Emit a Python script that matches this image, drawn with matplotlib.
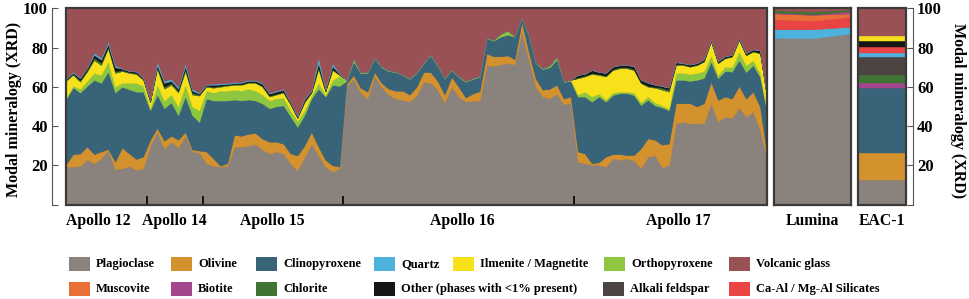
import numpy as np
import matplotlib
matplotlib.use("Agg")
import matplotlib.pyplot as plt
from matplotlib.patches import Rectangle

plt.rcParams["font.family"] = ["Liberation Serif", "DejaVu Serif"]
plt.rcParams["font.weight"] = "bold"

# sample groups along the main panel (samples in order)
group_names = ["Apollo 12", "Apollo 14", "Apollo 15", "Apollo 16", "Apollo 17"]
group_sizes = [12, 8, 20, 33, 28]

# modal mineralogy (%) of each lunar sample
plagioclase = [19.3, 19.3, 19.6, 23.0, 21.0, 23.5, 27.8, 18.0, 18.4, 19.6, 17.6, 18.4,
               30.0, 37.0, 28.5, 32.0, 29.0, 35.0, 27.0, 26.5,
               21.0, 19.7, 19.3, 19.5, 29.5, 29.5, 30.0, 30.8, 28.0, 26.0, 27.0, 26.0, 21.0, 17.5, 24.0, 31.0, 25.0, 19.3, 16.7, 18.4,
               60.5, 64.0, 57.0, 54.0, 65.5, 60.0, 56.0, 54.0, 53.3, 52.5, 55.5, 62.5, 62.0, 58.5, 52.0, 60.0, 55.0, 52.5, 53.0, 52.8,
               71.0, 70.5, 71.5, 72.0, 71.5, 88.0, 74.0, 60.0, 55.0, 54.0, 56.5, 51.0, 52.0,
               21.8, 21.0, 20.2, 20.2, 19.3, 23.5, 22.7, 23.5, 22.5, 18.4, 24.4, 25.0, 19.0, 20.0,
               41.3, 42.2, 41.3, 41.5, 41.3, 51.6, 42.2, 44.8, 44.0, 49.5, 44.8, 47.3, 38.0, 23.0]
olivine = [1.2, 6.4, 6.4, 6.5, 4.7, 3.5, 0.5, 3.8, 10.6, 6.4, 5.6, 6.0,
           3.0, 2.0, 4.0, 3.0, 4.0, 2.0, 1.0, 1.0,
           6.0, 3.8, 0.5, 1.5, 6.0, 5.5, 6.0, 5.7, 5.5, 6.0, 5.0, 5.0, 5.0, 7.5, 6.0, 6.0, 4.5, 3.4, 3.3, 0.9,
           1.0, 2.0, 2.5, 3.5, 2.0, 2.0, 3.0, 4.0, 4.7, 3.5, 4.5, 5.0, 5.5, 4.5, 4.0, 5.0, 5.0, 2.0, 3.5, 4.9,
           6.0, 5.0, 4.0, 4.0, 2.5, 5.0, 4.0, 4.0, 3.5, 5.0, 4.5, 3.0, 3.0,
           5.2, 5.0, 0.8, 1.3, 5.1, 2.2, 3.0, 1.7, 2.7, 10.2, 9.3, 8.0, 11.5, 11.0,
           10.3, 9.4, 10.3, 8.5, 10.3, 11.0, 11.1, 10.2, 10.0, 10.9, 9.2, 10.2, 11.9, 2.0]
clinopyroxene = [33.1, 34.0, 31.0, 30.9, 37.8, 35.0, 39.4, 35.2, 31.0, 32.7, 34.3, 33.1,
                 15.0, 17.0, 16.5, 17.0, 12.5, 18.0, 17.5, 14.5,
                 27.0, 29.5, 33.2, 32.0, 18.0, 18.0, 17.5, 16.5, 18.0, 17.0, 18.0, 19.5, 19.0, 14.5, 15.5, 17.0, 29.5, 32.3, 41.0, 41.1,
                 1.5, 7.0, 7.5, 9.5, 7.0, 8.0, 9.0, 9.5, 8.0, 8.0, 7.0, 4.5, 8.5, 7.5, 8.0, 3.5, 5.0, 8.0, 7.5, 7.3,
                 7.7, 8.0, 10.0, 10.5, 11.5, 2.0, 8.0, 8.0, 10.5, 11.0, 13.0, 8.5, 8.0,
                 28.0, 29.0, 31.4, 33.5, 28.0, 30.1, 31.0, 31.5, 30.6, 22.1, 19.6, 17.5, 19.0, 17.0,
                 11.9, 11.9, 11.4, 13.5, 12.9, 10.2, 11.0, 13.0, 13.7, 13.2, 13.5, 13.5, 15.1, 22.0]
orthopyroxene = [0.9, 0.8, 2.0, 2.6, 3.5, 4.0, 5.3, 3.0, 2.0, 3.3, 4.5, 3.0,
                 1.0, 5.0, 4.0, 4.0, 4.5, 6.0, 4.5, 6.0,
                 4.0, 4.0, 5.0, 5.0, 5.0, 5.0, 5.5, 5.0, 4.5, 4.0, 4.0, 4.0, 3.0, 3.0, 2.5, 1.5, 3.0, 0.8, 2.5, 5.1,
                 0.5, 1.0, 0.5, 0.5, 0.5, 0.5, 0.5, 0.3, 0.3, 0.5, 0.5, 0.5, 0.5, 0.5, 0.5, 0.5, 0.5, 0.5, 0.5, 0.5,
                 0.3, 0.5, 1.5, 2.2, 0.3, 0.2, 0.5, 0.5, 0.5, 1.0, 1.5, 0.5, 0.5,
                 1.0, 2.5, 2.6, 1.5, 1.1, 1.2, 0.8, 0.8, 1.2, 1.3, 1.7, 1.5, 1.0, 0.8,
                 3.5, 3.5, 3.5, 3.5, 3.5, 3.2, 1.7, 2.2, 2.3, 4.3, 3.5, 2.5, 2.0, 1.0]
ilmenite = [8.5, 5.5, 3.6, 4.7, 6.6, 5.0, 6.6, 7.0, 6.0, 5.0, 4.5, 3.0,
            3.0, 8.0, 6.0, 5.0, 7.0, 7.0, 6.0, 7.5,
            2.0, 2.5, 2.0, 2.5, 2.5, 3.0, 3.0, 4.0, 4.0, 2.0, 2.0, 2.5, 3.0, 1.5, 4.0, 1.5, 7.0, 1.7, 5.0, 0.5,
            0.0, 0.5, 0.0, 0.0, 0.0, 0.0, 0.0, 0.0, 0.0, 0.0, 0.0, 0.0, 0.0, 0.0, 0.0, 0.0, 0.0, 0.0, 0.0, 0.0,
            0.0, 0.0, 0.0, 0.0, 0.0, 0.0, 0.0, 0.0, 0.0, 0.0, 0.0, 0.0, 0.0,
            8.3, 7.7, 11.5, 9.5, 11.7, 11.5, 11.9, 11.9, 11.5, 9.8, 5.0, 7.5, 8.0, 8.7,
            4.0, 4.0, 3.7, 4.0, 4.8, 7.0, 6.0, 4.3, 5.3, 5.9, 5.0, 4.4, 10.0, 6.0]
chlorite = [0.5, 0.7, 0.7, 0.8, 1.2, 1.3, 0.7, 1.0, 0.5, 0.5, 0.5, 0.5,
            0.5, 1.0, 1.0, 1.0, 1.0, 1.0, 1.0, 0.5,
            0.5, 0.5, 0.5, 0.5, 0.3, 0.3, 0.3, 0.3, 0.5, 0.5, 0.5, 0.5, 0.3, 0.3, 0.5, 0.3, 1.0, 0.3, 0.5, 0.2,
            0.0, 0.0, 0.0, 0.0, 0.0, 0.0, 0.0, 0.0, 0.0, 0.0, 0.0, 0.0, 0.0, 0.0, 0.0, 0.0, 0.0, 0.0, 0.0, 0.0,
            0.0, 0.0, 0.0, 0.0, 0.0, 0.0, 0.0, 0.0, 0.0, 0.0, 0.0, 0.0, 0.0,
            0.5, 0.5, 0.5, 0.5, 0.5, 0.5, 0.6, 0.6, 0.5, 0.5, 0.5, 0.5, 1.0, 1.0,
            0.5, 0.5, 0.3, 0.3, 0.4, 0.3, 0.3, 0.3, 0.3, 0.2, 0.3, 0.3, 0.3, 0.3]
other = [0.5, 0.5, 1.0, 1.0, 1.5, 1.5, 1.5, 2.0, 0.7, 0.5, 0.7, 0.5,
         0.5, 1.0, 2.0, 1.0, 1.0, 1.5, 1.0, 0.5,
         0.5, 1.0, 0.7, 0.5, 0.5, 0.7, 0.7, 0.7, 1.0, 1.0, 1.0, 1.0, 0.7, 0.5, 1.0, 0.7, 2.0, 0.7, 1.5, 0.3,
         0.0, 0.0, 0.0, 0.0, 0.0, 0.0, 0.0, 0.0, 0.0, 0.0, 0.0, 0.0, 0.0, 0.0, 0.0, 0.0, 0.0, 0.0, 0.0, 0.0,
         0.0, 0.0, 0.0, 0.0, 0.0, 0.0, 0.0, 0.0, 0.0, 0.0, 0.0, 0.0, 0.0,
         1.2, 0.8, 1.5, 1.0, 1.3, 1.2, 1.0, 1.0, 1.5, 1.2, 1.5, 1.0, 0.8, 1.0,
         1.0, 0.5, 0.8, 0.7, 0.8, 0.5, 0.7, 0.7, 0.6, 0.5, 0.7, 0.8, 1.2, 0.3]
quartz = [0.3, 0.5, 0.5, 0.5, 1.1, 1.0, 1.2, 1.0, 0.2, 0.2, 0.3, 0.3,
          0.5, 2.0, 1.0, 1.0, 1.0, 1.5, 1.0, 0.5,
          0.5, 0.5, 0.6, 0.5, 0.5, 0.5, 0.5, 0.5, 0.5, 0.5, 0.5, 0.5, 0.5, 0.4, 0.5, 0.5, 3.0, 0.5, 1.5, 0.3,
          0.0, 0.0, 0.0, 0.0, 0.0, 0.0, 0.0, 0.0, 0.0, 0.0, 0.0, 0.0, 0.0, 0.0, 0.0, 0.0, 0.0, 0.0, 0.0, 0.0,
          0.0, 0.0, 0.0, 0.0, 0.0, 0.0, 0.0, 0.0, 0.0, 0.0, 0.0, 0.0, 0.0,
          0.2, 0.2, 0.2, 0.2, 0.2, 0.2, 0.2, 0.2, 0.2, 0.2, 0.2, 0.2, 0.2, 0.2,
          0.2, 0.2, 0.2, 0.2, 0.2, 0.2, 0.2, 0.2, 0.2, 0.2, 0.2, 0.2, 0.2, 0.2]
volcanic_glass = [35.7, 32.3, 35.2, 30.0, 22.6, 25.2, 17.0, 29.0, 30.6, 31.8, 32.0, 35.2,
                  46.5, 27.0, 37.0, 36.0, 40.0, 28.0, 41.0, 43.0,
                  38.5, 38.5, 38.2, 38.0, 37.7, 37.5, 36.5, 36.5, 38.0, 43.0, 42.0, 41.0, 47.5, 54.8, 46.0, 41.5, 25.0, 41.0, 28.0, 33.2,
                  36.5, 25.5, 32.5, 32.5, 25.0, 29.5, 31.5, 32.2, 33.7, 35.5, 32.5, 27.5, 23.5, 29.0, 35.5, 31.0, 34.5, 37.0, 35.5, 34.5,
                  15.0, 16.0, 13.0, 11.3, 14.2, 4.8, 13.5, 27.5, 30.5, 29.0, 24.5, 37.0, 36.5,
                  33.8, 33.3, 31.3, 32.3, 32.8, 29.6, 28.8, 28.8, 29.3, 36.3, 37.8, 38.8, 39.5, 40.3,
                  27.3, 27.8, 28.5, 27.8, 25.8, 16.0, 26.8, 24.3, 23.6, 15.3, 22.8, 20.8, 21.3, 45.2]

# Lumina simulant (three measurements)
lumina_plagioclase = [85.0, 84.7, 87.2]
lumina_quartz = [4.3, 4.6, 3.4]
lumina_ca_al = [5.2, 4.4, 5.1]
lumina_muscovite = [2.9, 2.9, 1.7]
lumina_biotite = [0.5, 0.3, 1.2]
lumina_chlorite = [1.2, 1.4, 0.9]
lumina_glass = [0.9, 1.7, 0.5]

# EAC-1 simulant, bottom to top
eac_minerals = ["Plagioclase", "Olivine", "Clinopyroxene", "Biotite", "Chlorite", "Alkali feldspar",
                "Quartz", "Ca-Al / Mg-Al Silicates", "Other (phases with <1% present)",
                "Ilmenite / Magnetite", "Volcanic glass"]
eac_values = [12.3, 13.9, 33.0, 2.9, 3.9, 9.3, 1.8, 3.3, 3.1, 2.4, 14.1]

colors = {
    "Plagioclase": "#8a827d",
    "Olivine": "#d4922f",
    "Clinopyroxene": "#386479",
    "Quartz": "#4db3dc",
    "Ilmenite / Magnetite": "#f7e11b",
    "Orthopyroxene": "#8dc63f",
    "Volcanic glass": "#995156",
    "Muscovite": "#ea6f37",
    "Biotite": "#a3468e",
    "Chlorite": "#3f7432",
    "Other (phases with <1% present)": "#161616",
    "Alkali feldspar": "#4b4441",
    "Ca-Al / Mg-Al Silicates": "#ea4444",
}
legend_row1 = ["Plagioclase", "Olivine", "Clinopyroxene", "Quartz", "Ilmenite / Magnetite",
               "Orthopyroxene", "Volcanic glass"]
legend_row2 = ["Muscovite", "Biotite", "Chlorite", "Other (phases with <1% present)",
               "Alkali feldspar", "Ca-Al / Mg-Al Silicates"]

W, H = 969, 299
fig = plt.figure(figsize=(W / 100, H / 100), dpi=100)
edge = "#3a3a3a"


def px_axes(x0, x1, y0=8.3, y1=204.5):
    return fig.add_axes([x0 / W, 1 - y1 / H, (x1 - x0) / W, (y1 - y0) / H])


def frame(a):
    a.add_patch(Rectangle((0, 0), 1, 1, transform=a.transAxes, fill=False,
                          lw=1.6, ec=edge, clip_on=False, zorder=5))


def stack(a, x, layers, names):
    cols = [colors[n] for n in names]
    polys = a.stackplot(x, *layers, colors=cols, linewidth=0.3)
    for p, c in zip(polys, cols):
        p.set_edgecolor(c)
    a.set_facecolor(colors["Volcanic glass"])
    a.set_ylim(0, 100)
    a.set_xlim(x[0], x[-1])


# main panel
ax = px_axes(66, 767)
x = np.arange(len(plagioclase))
stack(ax, x, [plagioclase, olivine, clinopyroxene, orthopyroxene, ilmenite,
              chlorite, other, quartz, volcanic_glass],
      ["Plagioclase", "Olivine", "Clinopyroxene", "Orthopyroxene", "Ilmenite / Magnetite",
       "Chlorite", "Other (phases with <1% present)", "Quartz", "Volcanic glass"])
frame(ax)
for s in ["top", "right", "bottom"]:
    ax.spines[s].set_visible(False)
ax.spines["left"].set_position(("outward", 10))
ax.spines["left"].set_color("#555555")
ax.set_yticks([0, 20, 40, 60, 80, 100])
ax.set_yticklabels(["", "20", "40", "60", "80", "100"])
ax.tick_params(axis="y", direction="in", length=4, color="#555555", labelsize=12, pad=3)
bounds = np.cumsum(group_sizes)[:-1] - 0.5
ax.set_xticks(bounds)
ax.tick_params(axis="x", direction="in", length=6.5, width=1.2, color="black", labelbottom=False)

# group names under the main panel
label_x = [98, 174, 272, 462, 678]
for name, lx in zip(group_names, label_x):
    fig.text(lx / W, 1 - 221 / H, name, ha="center", va="center", fontsize=11.3)

# Lumina panel
axl = px_axes(774, 851)
stack(axl, [0, 1, 2], [lumina_plagioclase, lumina_quartz, lumina_ca_al, lumina_muscovite,
                       lumina_biotite, lumina_chlorite, lumina_glass],
      ["Plagioclase", "Quartz", "Ca-Al / Mg-Al Silicates", "Muscovite", "Biotite",
       "Chlorite", "Volcanic glass"])
axl.set_xticks([])
axl.set_yticks([])
for s in axl.spines.values():
    s.set_linewidth(1.6)
    s.set_color(edge)
fig.text(812 / W, 1 - 221 / H, "Lumina", ha="center", va="center", fontsize=11.3)

# EAC-1 panel
axe = px_axes(858, 906)
stack(axe, [0, 1], [[v, v] for v in eac_values], eac_minerals)
frame(axe)
for s in ["top", "left", "bottom"]:
    axe.spines[s].set_visible(False)
axe.spines["right"].set_position(("outward", 5))
axe.spines["right"].set_color("#555555")
axe.set_xticks([])
axe.yaxis.tick_right()
axe.set_yticks([0, 20, 40, 60, 80, 100])
axe.set_yticklabels(["", "20", "40", "60", "80", "100"])
axe.tick_params(axis="y", direction="in", length=4, color="#555555", labelsize=12, pad=3)
fig.text(882 / W, 1 - 221 / H, "EAC-1", ha="center", va="center", fontsize=11.3)

# axis titles
fig.text(14 / W, 1 - 109 / H, "Modal mineralogy (XRD)", rotation=90, ha="center",
         va="center", fontsize=11.5)
fig.text(958 / W, 1 - 111 / H, "Modal mineralogy (XRD)", rotation=-90, ha="center",
         va="center", fontsize=11.5)

# legend, placed by hand like the original
row1_x = [69, 171, 256, 374, 453, 604, 729]
row2_x = [69, 171, 256, 374, 603, 729]
for names, xs, yc in [(legend_row1, row1_x, 264), (legend_row2, row2_x, 289)]:
    for name, x0 in zip(names, xs):
        fig.add_artist(Rectangle((x0 / W, 1 - (yc + 7) / H), 21 / W, 14 / H,
                                 transform=fig.transFigure, fc=colors[name], ec="none"))
        fig.text((x0 + 27) / W, 1 - yc / H, name, ha="left", va="center", fontsize=9)

fig.savefig("out.png", dpi=100)
